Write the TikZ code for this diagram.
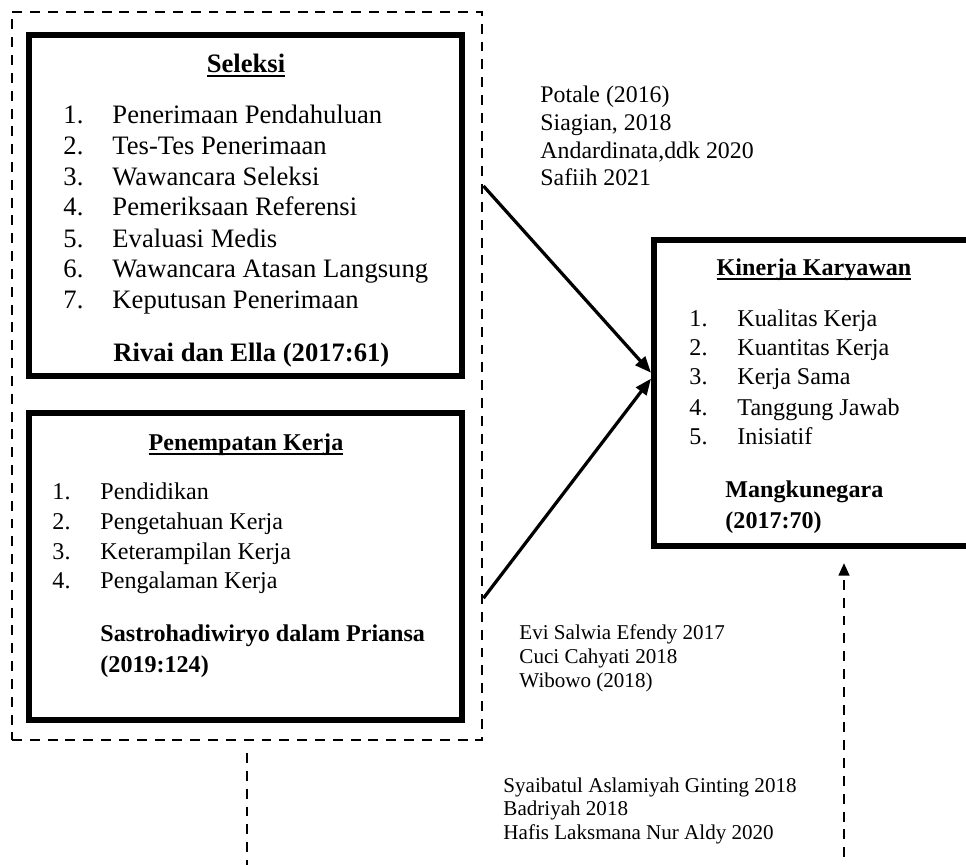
\documentclass[tikz,border=0pt]{standalone}
\usepackage{fontspec}
\setmainfont{Liberation Serif}
\usetikzlibrary{arrows.meta,fit,calc}
\newcommand\myul[1]{\setbox0\hbox{#1}\rlap{\rule[-2pt]{\wd0}{0.8pt}}\box0}
\begin{document}
\begin{tikzpicture}[x=0.432pt,y=-0.432pt,
  box/.style={draw, line width=2.6pt, inner sep=0pt},
  grpbox/.style={draw, line width=1.25pt, dash pattern=on 4.3pt off 3.4pt, inner sep=0pt},
  big/.style={font=\fontsize{11.5}{13}\selectfont, anchor=base west, inner sep=0pt},
  mid/.style={font=\fontsize{10.4}{12}\selectfont, anchor=base west, inner sep=0pt},
  small/.style={font=\fontsize{9.1}{10.5}\selectfont, anchor=base west, inner sep=0pt},
  cite/.style={font=\fontsize{10.3}{12}\selectfont, anchor=base west, inner sep=0pt},
  ttl/.style={anchor=base, inner sep=0pt},
  link/.style={line width=1.4pt, -{Triangle[length=7pt,width=5.5pt]}},
  dlink/.style={line width=1.25pt, dash pattern=on 4.3pt off 3.4pt},
]
\useasboundingbox (0,0) rectangle (966,865);
\clip (0,0) rectangle (966,865);

% group and boxes
\node[grpbox, fit={(12,12) (482,740)}] (grp) {};
\node[box, fit={(29,35) (462,376)}] (sel) {};
\node[box, fit={(29,413) (462,720)}] (pen) {};
\node[box, fit={(654,240) (1010,546)}] (kin) {};

% Seleksi
\node[big, ttl, font=\fontsize{11.5}{13}\selectfont\bfseries] (selT) at (246,72) {\myul{Seleksi}};
\node[big] (s1n) at (63,123) {1.}; \node[big] (s1) at (112,123) {Penerimaan Pendahuluan};
\node[big] (s2n) at (63,154) {2.}; \node[big] (s2) at (112,154) {Tes-Tes Penerimaan};
\node[big] (s3n) at (63,185) {3.}; \node[big] (s3) at (112,185) {Wawancara Seleksi};
\node[big] (s4n) at (63,215) {4.}; \node[big] (s4) at (112,215) {Pemeriksaan Referensi};
\node[big] (s5n) at (63,247) {5.}; \node[big] (s5) at (112,247) {Evaluasi Medis};
\node[big] (s6n) at (63,277) {6.}; \node[big] (s6) at (112,277) {Wawancara Atasan Langsung};
\node[big] (s7n) at (63,308) {7.}; \node[big] (s7) at (112,308) {Keputusan Penerimaan};
\node[big, font=\fontsize{11.5}{13}\selectfont\bfseries] (selR) at (113,361) {Rivai dan Ella (2017:61)};

% Penempatan Kerja
\node[mid, ttl, font=\fontsize{10.4}{12}\selectfont\bfseries] (penT) at (246,450) {\myul{Penempatan Kerja}};
\node[mid] (p1n) at (52,499) {1.}; \node[mid] (p1) at (100,499) {Pendidikan};
\node[mid] (p2n) at (52,529) {2.}; \node[mid] (p2) at (100,529) {Pengetahuan Kerja};
\node[mid] (p3n) at (52,559) {3.}; \node[mid] (p3) at (100,559) {Keterampilan Kerja};
\node[mid] (p4n) at (52,588) {4.}; \node[mid] (p4) at (100,588) {Pengalaman Kerja};
\node[mid, font=\fontsize{10.4}{12}\selectfont\bfseries] (penR1) at (100,641) {Sastrohadiwiryo dalam Priansa};
\node[mid, font=\fontsize{10.4}{12}\selectfont\bfseries] (penR2) at (100,672) {(2019:124)};

% Kinerja Karyawan
\node[mid, ttl, font=\fontsize{10.4}{12}\selectfont\bfseries] (kinT) at (814,275) {\myul{Kinerja Karyawan}};
\node[mid] (k1n) at (689,326) {1.}; \node[mid] (k1) at (737,326) {Kualitas Kerja};
\node[mid] (k2n) at (689,355) {2.}; \node[mid] (k2) at (737,355) {Kuantitas Kerja};
\node[mid] (k3n) at (689,384) {3.}; \node[mid] (k3) at (737,384) {Kerja Sama};
\node[mid] (k4n) at (689,415) {4.}; \node[mid] (k4) at (737,415) {Tanggung Jawab};
\node[mid] (k5n) at (689,444) {5.}; \node[mid] (k5) at (737,444) {Inisiatif};
\node[mid, font=\fontsize{10.4}{12}\selectfont\bfseries] (kinR1) at (725,497) {Mangkunegara};
\node[mid, font=\fontsize{10.4}{12}\selectfont\bfseries] (kinR2) at (725,528) {(2017:70)};

% citations
\node[cite] (c1) at (540,102) {Potale (2016)};
\node[cite] (c2) at (540,130) {Siagian, 2018};
\node[cite] (c3) at (540,158) {Andardinata,ddk 2020};
\node[cite] (c4) at (540,185) {Safiih 2021};

\node[small] (e1) at (519,639) {Evi Salwia Efendy 2017};
\node[small] (e2) at (519,663) {Cuci Cahyati 2018};
\node[small] (e3) at (519,687) {Wibowo (2018)};

\node[small] (g1) at (503,792) {Syaibatul Aslamiyah Ginting 2018};
\node[small] (g2) at (503,815) {Badriyah 2018};
\node[small] (g3) at (503,839) {Hafis Laksmana Nur Aldy 2020};

% connectors
\coordinate (aU) at ($(grp.north east)!0.240!(grp.south east)$);
\coordinate (aL) at ($(grp.north east)!0.804!(grp.south east)$);
\coordinate (tU) at ($(kin.north west)!0.435!(kin.south west)$);
\coordinate (tL) at ($(kin.north west)!0.454!(kin.south west)$);
\draw[link] (aU) -- (tU);
\draw[link] (aL) -- (tL);

\coordinate (b1) at (grp.south |- 0,875);
\draw[dlink, shorten <=5pt] (grp.south) -- (b1);
\coordinate (b2) at (844,875);
\coordinate (kb) at (b2 |- kin.south);
\draw[dlink, -{Triangle[length=5.5pt,width=4.5pt]}, shorten >=6pt] (b2) -- (kb);
\end{tikzpicture}
\end{document}
